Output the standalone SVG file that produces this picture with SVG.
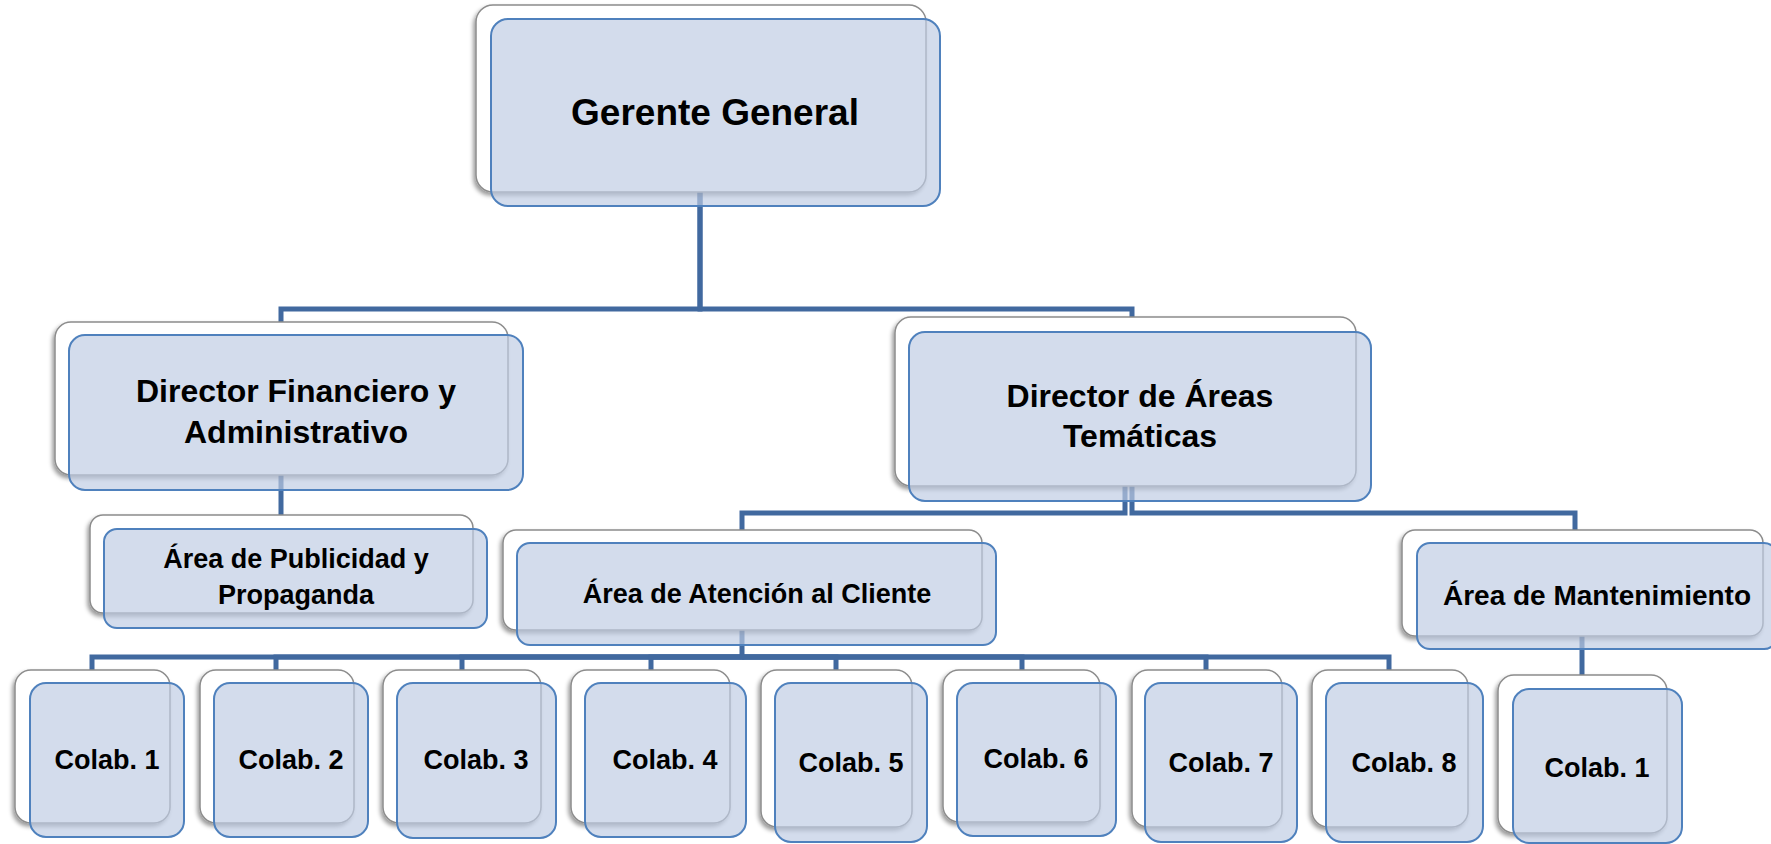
<svg xmlns="http://www.w3.org/2000/svg" width="1771" height="844" viewBox="0 0 1771 844">
<defs>
<filter id="sh" x="-10%" y="-10%" width="120%" height="130%">
<feDropShadow dx="-2" dy="3" stdDeviation="2" flood-color="#000" flood-opacity="0.4"/>
</filter>
</defs>
<style>
.w{fill:#fff;stroke:#8c8c8c;stroke-width:1.5;filter:url(#sh)}
.b{fill:rgba(190,203,227,0.68);stroke:#4F81BD;stroke-width:2}
.c{fill:none;stroke:#41699F;stroke-width:5;stroke-linejoin:miter}
text{font-family:"Liberation Sans",Arial,sans-serif;font-weight:bold;fill:#000;text-anchor:middle}
.t37{font-size:37px}.t32{font-size:32px}.t27{font-size:27px}.t28{font-size:28px}
</style>
<rect width="1771" height="844" fill="#fff"/>
<g id="connectors">
<path class="c" d="M700,185 V309 H281 V322"/>
<path class="c" d="M700,185 V309 H1132 V317"/>
<path class="c" d="M281,470 V515"/>
<path class="c" d="M1125,480 V513 H742 V530"/>
<path class="c" d="M1132,480 V513 H1575 V530"/>
<path class="c" d="M742,625 V657 H92 V670"/>
<path class="c" d="M742,657 H276 V670"/>
<path class="c" d="M742,657 H462 V670"/>
<path class="c" d="M742,657 H651 V670"/>
<path class="c" d="M742,657 H836 V670"/>
<path class="c" d="M742,657 H1022 V670"/>
<path class="c" d="M742,657 H1206 V670"/>
<path class="c" d="M742,657 H1389 V670"/>
<path class="c" d="M1582,630 V675"/>
</g>
<g id="gerente">
<rect class="w" x="476" y="5" width="450" height="187" rx="17"/>
<rect class="b" x="491" y="19" width="449" height="187" rx="17"/>
<text class="t37" x="715" y="125">Gerente General</text>
</g>
<g id="dir-financiero">
<rect class="w" x="55" y="322" width="453" height="153" rx="16"/>
<rect class="b" x="69" y="335" width="454" height="155" rx="16"/>
<text class="t32" x="296" y="402">Director Financiero y</text>
<text class="t32" x="296" y="443">Administrativo</text>
</g>
<g id="dir-areas">
<rect class="w" x="895" y="317" width="461" height="169" rx="16"/>
<rect class="b" x="909" y="332" width="462" height="169" rx="16"/>
<text class="t32" x="1140" y="407">Director de Áreas</text>
<text class="t32" x="1140" y="447">Temáticas</text>
</g>
<g id="area-publicidad">
<rect class="w" x="90" y="515" width="383" height="98" rx="13"/>
<rect class="b" x="104" y="529" width="383" height="99" rx="13"/>
<text class="t27" x="296" y="568">Área de Publicidad y</text>
<text class="t27" x="296" y="604">Propaganda</text>
</g>
<g id="area-atencion">
<rect class="w" x="503" y="530" width="479" height="100" rx="13"/>
<rect class="b" x="517" y="543" width="479" height="102" rx="13"/>
<text class="t27" x="757" y="603">Área de Atención al Cliente</text>
</g>
<g id="area-mantenimiento">
<rect class="w" x="1402" y="530" width="361" height="106" rx="13"/>
<rect class="b" x="1417" y="543" width="360" height="106" rx="13"/>
<text class="t28" x="1597" y="605">Área de Mantenimiento</text>
</g>
<g id="colab-1">
<rect class="w" x="15" y="670" width="155" height="153" rx="16"/>
<rect class="b" x="30" y="683" width="154" height="154" rx="16"/>
<text class="t27" x="107" y="769">Colab. 1</text>
</g>
<g id="colab-2">
<rect class="w" x="200" y="670" width="154" height="153" rx="16"/>
<rect class="b" x="214" y="683" width="154" height="154" rx="16"/>
<text class="t27" x="291" y="769">Colab. 2</text>
</g>
<g id="colab-3">
<rect class="w" x="383" y="670" width="158" height="153" rx="16"/>
<rect class="b" x="397" y="683" width="159" height="155" rx="16"/>
<text class="t27" x="476" y="769">Colab. 3</text>
</g>
<g id="colab-4">
<rect class="w" x="571" y="670" width="159" height="153" rx="16"/>
<rect class="b" x="585" y="683" width="161" height="154" rx="16"/>
<text class="t27" x="665" y="769">Colab. 4</text>
</g>
<g id="colab-5">
<rect class="w" x="761" y="670" width="151" height="157" rx="16"/>
<rect class="b" x="775" y="683" width="152" height="159" rx="16"/>
<text class="t27" x="851" y="772">Colab. 5</text>
</g>
<g id="colab-6">
<rect class="w" x="943" y="670" width="157" height="152" rx="16"/>
<rect class="b" x="957" y="683" width="159" height="153" rx="16"/>
<text class="t27" x="1036" y="768">Colab. 6</text>
</g>
<g id="colab-7">
<rect class="w" x="1132" y="670" width="150" height="157" rx="16"/>
<rect class="b" x="1145" y="683" width="152" height="159" rx="16"/>
<text class="t27" x="1221" y="772">Colab. 7</text>
</g>
<g id="colab-8">
<rect class="w" x="1312" y="670" width="156" height="157" rx="16"/>
<rect class="b" x="1326" y="683" width="157" height="159" rx="16"/>
<text class="t27" x="1404" y="772">Colab. 8</text>
</g>
<g id="colab-m1">
<rect class="w" x="1498" y="675" width="169" height="158" rx="16"/>
<rect class="b" x="1513" y="689" width="169" height="154" rx="16"/>
<text class="t27" x="1597" y="777">Colab. 1</text>
</g>
</svg>
